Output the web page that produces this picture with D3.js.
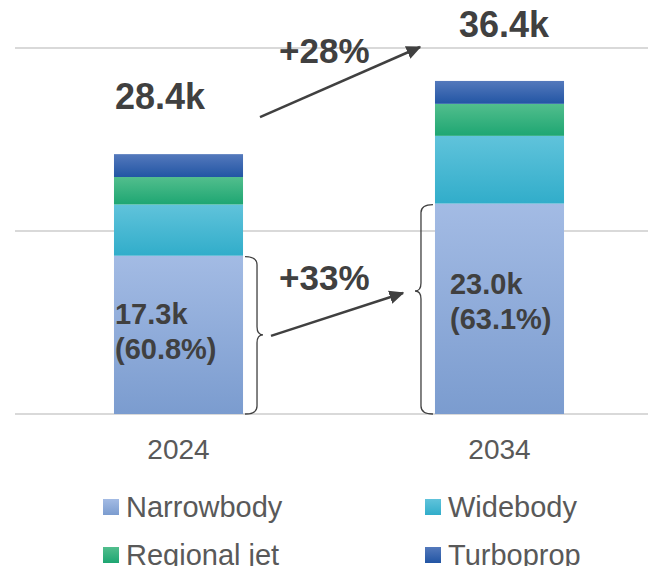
<!DOCTYPE html>
<html>
<head>
<meta charset="utf-8">
<script src="https://cdn.jsdelivr.net/npm/d3@7/dist/d3.min.js"></script>
<style>
  body { margin: 0; background: #fff; }
  svg { display: block; font-family: "Liberation Sans", Arial, sans-serif; }
</style>
</head>
<body>
<div id="canvas"></div>
<script>
// Data

let years = ["2024", "2034"];
let series = ["Narrowbody", "Widebody", "Regional jet", "Turboprop"];
let narrowbody = [17.3, 23.0];
let widebody = [5.6, 7.4];
let regionalJet = [3.0, 3.5];
let turboprop = [2.5, 2.5];
let totalLabels = ["28.4k", "36.4k"];
let narrowLabels = [["17.3k", "(60.8%)"], ["23.0k", "(63.1%)"]];
let growthTotal = "+28%";
let growthNarrow = "+33%";
let yTicks = [0, 20, 40];

// Colours (top / bottom of each gradient)

let colors = {
    "Narrowbody":   ["#a3bbe4", "#7b9ccf"],
    "Widebody":     ["#60c3db", "#31adca"],
    "Regional jet": ["#52be8d", "#1ea672"],
    "Turboprop":    ["#5479bc", "#2255a4"]
};

let W = 648, H = 566;
let ink = "#404040";

let svg = d3.select("#canvas")
    .append("svg")
    .attr("width", W)
    .attr("height", H);

let defs = svg.append("defs");
series.forEach((s, i) => {
    let g = defs.append("linearGradient")
        .attr("id", "grad" + i)
        .attr("x1", 0).attr("y1", 0).attr("x2", 0).attr("y2", 1);
    g.append("stop").attr("offset", "0%").attr("stop-color", colors[s][0]);
    g.append("stop").attr("offset", "100%").attr("stop-color", colors[s][1]);
});

defs.append("marker")
    .attr("id", "arrow")
    .attr("viewBox", "0 0 10 10")
    .attr("refX", 9).attr("refY", 5)
    .attr("markerWidth", 6).attr("markerHeight", 5.5)
    .attr("markerUnits", "strokeWidth")
    .attr("orient", "auto")
    .attr("preserveAspectRatio", "none")
    .append("path")
    .attr("d", "M0,0 L10,5 L0,10 z")
    .attr("fill", ink);

// Scales

let xScale = d3.scaleBand()
    .domain(years)
    .range([18, 660])
    .paddingInner(0.598)
    .paddingOuter(0.299);

let yScale = d3.scaleLinear()
    .domain([0, 40])
    .range([414, 48]);

// Gridlines

svg.append("g")
    .selectAll("line")
    .data(yTicks)
    .join("line")
    .attr("x1", 15).attr("x2", W)
    .attr("y1", d => yScale(d)).attr("y2", d => yScale(d))
    .attr("stroke", "#d9d9d9")
    .attr("stroke-width", 2);

// Stacked bars

let rows = years.map((y, i) => ({
    year: y,
    "Narrowbody": narrowbody[i],
    "Widebody": widebody[i],
    "Regional jet": regionalJet[i],
    "Turboprop": turboprop[i]
}));

let stacked = d3.stack().keys(series)(rows);

svg.append("g")
    .selectAll("g")
    .data(stacked)
    .join("g")
    .attr("fill", (d, i) => "url(#grad" + i + ")")
    .selectAll("rect")
    .data(d => d)
    .join("rect")
    .attr("x", d => xScale(d.data.year))
    .attr("width", xScale.bandwidth())
    .attr("y", d => yScale(d[1]))
    .attr("height", d => yScale(d[0]) - yScale(d[1]));

// X axis labels

svg.append("g")
    .attr("transform", "translate(0," + yScale(0) + ")")
    .call(d3.axisBottom(xScale).tickSize(0).tickPadding(25))
    .call(g => g.select(".domain").remove())
    .selectAll("text")
    .style("font-family", "Liberation Sans, Arial, sans-serif")
    .style("font-size", "28px")
    .attr("fill", "#595959");

// Totals

let bw = xScale.bandwidth();
let x0 = xScale(years[0]), x1 = xScale(years[1]);
let top0 = yScale(narrowbody[0] + widebody[0] + regionalJet[0] + turboprop[0]);
let top1 = yScale(narrowbody[1] + widebody[1] + regionalJet[1] + turboprop[1]);

svg.append("text")
    .attr("x", x0 + 1).attr("y", top0 - 45)
    .style("font-size", "36px").style("font-weight", 700)
    .attr("fill", ink)
    .text(totalLabels[0]);

svg.append("text")
    .attr("x", x1 + 24).attr("y", top1 - 44)
    .style("font-size", "36px").style("font-weight", 700)
    .attr("fill", ink)
    .text(totalLabels[1]);

// Narrowbody labels inside bars

narrowLabels.forEach((lab, i) => {
    let xb = xScale(years[i]) + (i === 0 ? 1 : 15);
    let mid = (yScale(0) + yScale(narrowbody[i])) / 2;
    let t = svg.append("text")
        .attr("x", xb)
        .attr("y", mid - 11 + (i === 0 ? 0 : -4))
        .style("font-size", "29px").style("font-weight", 700)
        .attr("fill", ink);
    t.append("tspan").attr("x", xb).text(lab[0]);
    t.append("tspan").attr("x", xb).attr("dy", 35).text(lab[1]);
});

// Braces

let n0 = yScale(narrowbody[0]), n1 = yScale(narrowbody[1]), base = yScale(0);

function brace(xEdge, yTop, yBot, yTip, dir) {
    // dir = 1 opens right (like "}"), -1 like "{"
    let a = xEdge, b = xEdge + dir * 12, c = xEdge + dir * 18;
    let r = 8;
    return "M" + a + "," + yTop +
        " Q" + b + "," + yTop + " " + b + "," + (yTop + r) +
        " L" + b + "," + (yTip - r) +
        " Q" + b + "," + yTip + " " + c + "," + yTip +
        " Q" + b + "," + yTip + " " + b + "," + (yTip + r) +
        " L" + b + "," + (yBot - r) +
        " Q" + b + "," + yBot + " " + a + "," + yBot;
}

let tip0 = (n0 + base) / 2;
let tip1 = 291;

svg.append("path")
    .attr("d", brace(x0 + bw + 2, n0 + 1, base, tip0, 1))
    .attr("fill", "none").attr("stroke", ink).attr("stroke-width", 1.3);

svg.append("path")
    .attr("d", brace(x1 - 2, n1 + 1, base, tip1, -1))
    .attr("fill", "none").attr("stroke", ink).attr("stroke-width", 1.3);

// Growth arrows

svg.append("line")
    .attr("x1", x0 + bw + 28).attr("y1", tip0 + 1)
    .attr("x2", x1 - 32).attr("y2", tip1 + 2)
    .attr("stroke", ink).attr("stroke-width", 2.5)
    .attr("marker-end", "url(#arrow)");

svg.append("text")
    .attr("x", x0 + bw + 36).attr("y", 290)
    .style("font-size", "35px").style("font-weight", 700)
    .attr("fill", ink)
    .text(growthNarrow);

svg.append("line")
    .attr("x1", x0 + bw + 17).attr("y1", top0 - 37)
    .attr("x2", x1 - 15).attr("y2", yScale(40) - 1)
    .attr("stroke", ink).attr("stroke-width", 2.5)
    .attr("marker-end", "url(#arrow)");

svg.append("text")
    .attr("x", x0 + bw + 36).attr("y", 63)
    .style("font-size", "35px").style("font-weight", 700)
    .attr("fill", ink)
    .text(growthTotal);

// Legend

let legend = svg.append("g")
    .selectAll("g")
    .data(series)
    .join("g")
    .attr("transform", (d, i) => "translate(" + (i % 2 === 0 ? 103 : 425) + "," + (i < 2 ? 499 : 547) + ")");

legend.append("rect")
    .attr("width", 16).attr("height", 16)
    .attr("fill", (d, i) => "url(#grad" + i + ")");

legend.append("text")
    .attr("x", 23).attr("y", 18)
    .style("font-size", "29px")
    .attr("fill", "#595959")
    .text(d => d);
</script>
</body>
</html>
